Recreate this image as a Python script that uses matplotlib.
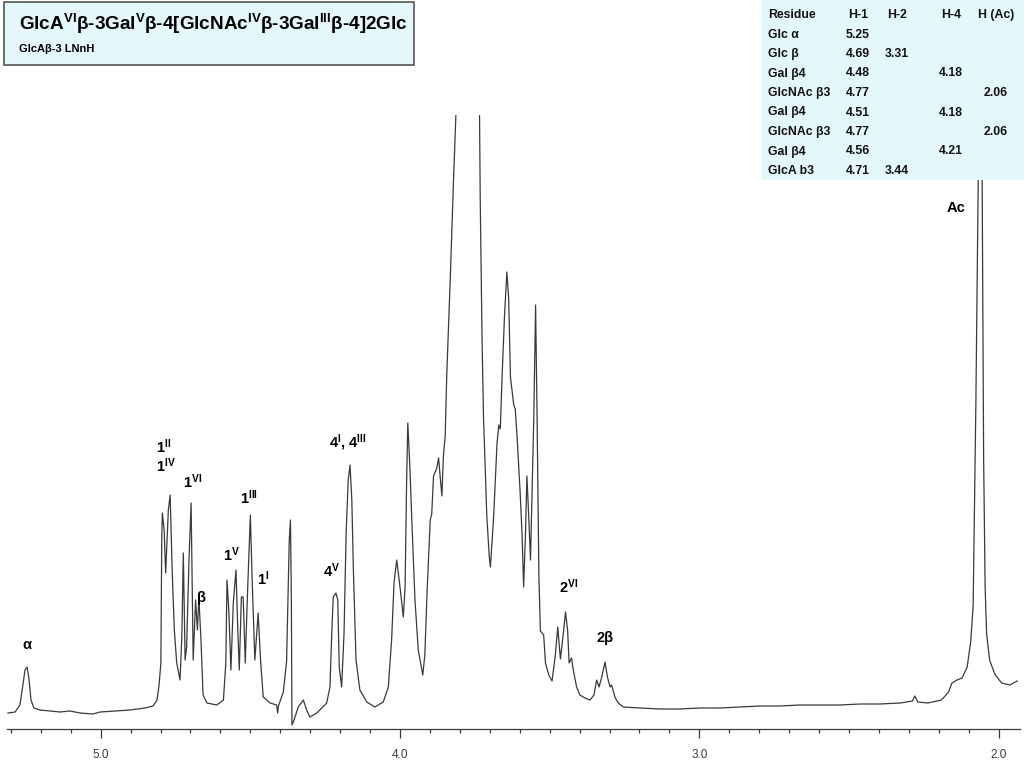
import numpy as np
import matplotlib
matplotlib.use("Agg")
import matplotlib.pyplot as plt
from matplotlib.patches import Rectangle
from matplotlib.ticker import MultipleLocator

plt.rcParams['font.family'] = ['Liberation Sans', 'DejaVu Sans']
plt.rcParams['mathtext.fontset'] = 'custom'
plt.rcParams['mathtext.rm'] = 'Liberation Sans'
plt.rcParams['mathtext.bf'] = 'Liberation Sans:bold'
plt.rcParams['mathtext.it'] = 'Liberation Sans:italic'

# ---------------- data ----------------
shift_ppm = [
    # alpha anomer / baseline
    5.310, 5.286, 5.270, 5.260, 5.253, 5.246, 5.240, 5.233, 5.223, 5.203,
    5.169, 5.136, 5.103, 5.069, 5.026, 5.002, 4.952, 4.902, 4.852, 4.825,
    # H-1 cluster 4.80-4.65
    4.812, 4.805, 4.799, 4.796, 4.794, 4.788, 4.783, 4.774, 4.768, 4.761,
    4.754, 4.746, 4.735, 4.729, 4.724, 4.718, 4.713, 4.705, 4.698, 4.691,
    4.683, 4.677, 4.672, 4.665, 4.658, 4.645,
    # H-1 cluster 4.60-4.45
    4.612, 4.590, 4.582, 4.578, 4.572, 4.565, 4.557, 4.548, 4.542, 4.537,
    4.530, 4.524, 4.517, 4.510, 4.500, 4.494, 4.485, 4.474, 4.466, 4.457,
    4.434, 4.412, 4.409, 4.406,
    # HDO + H-4
    4.390, 4.379, 4.370, 4.366, 4.363, 4.361, 4.354, 4.340, 4.323, 4.312,
    4.301, 4.278, 4.245, 4.234, 4.228, 4.223, 4.214, 4.208, 4.203, 4.195,
    4.187, 4.180, 4.173, 4.167, 4.161, 4.156, 4.147, 4.134, 4.111, 4.084,
    # ring protons
    4.056, 4.039, 4.028, 4.020, 4.011, 4.000, 3.989, 3.983, 3.978, 3.974,
    3.967, 3.961, 3.950, 3.939, 3.924, 3.917, 3.910, 3.899, 3.894, 3.888,
    3.877, 3.871, 3.866, 3.860, 3.855, 3.849, 3.844, 3.832, 3.821, 3.810,
    3.793, 3.773, 3.753, 3.735, 3.732, 3.726, 3.721, 3.710, 3.702, 3.698,
    3.687, 3.676, 3.670, 3.665, 3.659, 3.651, 3.643, 3.637, 3.631, 3.620,
    3.615, 3.609, 3.598, 3.592, 3.587, 3.581, 3.576, 3.570, 3.564, 3.559,
    3.553, 3.547, 3.542, 3.536, 3.531, 3.520, 3.514, 3.503, 3.492, 3.481,
    3.473, 3.464, 3.453, 3.447, 3.440, 3.435, 3.427, 3.421, 3.410, 3.399,
    3.382, 3.365, 3.352, 3.343, 3.335, 3.326, 3.315, 3.307, 3.298, 3.293,
    3.282, 3.271, 3.254,
    # baseline + acetyl
    3.198, 3.132, 3.065, 2.998, 2.931, 2.864, 2.797, 2.730, 2.664, 2.597,
    2.530, 2.463, 2.396, 2.328, 2.288, 2.280, 2.270, 2.236, 2.191, 2.167,
    2.156, 2.139, 2.122, 2.105, 2.093, 2.085, 2.081, 2.076, 2.071, 2.068,
    2.064, 2.059, 2.055, 2.053, 2.050, 2.045, 2.040, 2.030, 2.013, 1.990,
    1.962, 1.938,
]
intensity = [
    16, 17, 24, 44, 59, 62, 51, 29, 21, 19,
    18, 17, 18, 16, 15, 17, 18, 19, 21, 23,
    29, 44, 66, 192, 216, 199, 156, 219, 234, 156,
    99, 66, 49, 92, 176, 69, 82, 169, 226, 69,
    129, 99, 131, 89, 34, 26,
    24, 29, 66, 149, 119, 59, 126, 159, 99, 59,
    132, 132, 66, 132, 214, 149, 69, 116, 69, 32,
    26, 24, 16, 23,
    37, 67, 189, 209, 129, 4, 9, 22, 29, 19,
    12, 16, 26, 42, 96, 132, 136, 129, 62, 42,
    96, 196, 249, 264, 229, 162, 69, 39, 27, 22,
    27, 42, 89, 146, 169, 142, 112, 142, 246, 306,
    262, 212, 129, 79, 54, 74, 134, 209, 215, 253,
    261, 271, 253, 233, 273, 293, 352, 451, 551, 640,
    829, 879, 829, 640, 531, 392, 312, 213, 173, 162,
    213, 285, 304, 300, 352, 412, 457, 431, 352, 324,
    320, 293, 233, 193, 142, 193, 253, 213, 169, 233,
    312, 424, 312, 154, 98, 94, 66, 54, 48, 74,
    102, 70, 99, 117, 99, 66, 71, 59, 42, 34,
    31, 29, 34, 49, 42, 52, 67, 52, 42, 44,
    32, 26, 22,
    21, 20, 20, 21, 21, 22, 23, 23, 24, 24,
    24, 25, 25, 26, 28, 33, 27, 26, 29, 37,
    46, 49, 51, 62, 88, 124, 215, 324, 470, 550,
    1029, 1029, 550, 433, 270, 142, 95, 69, 55, 46,
    44, 48,
]
assert len(shift_ppm) == len(intensity)

major_ticks = [5.0, 4.0, 3.0, 2.0]
major_labels = ["5.0", "4.0", "3.0", "2.0"]

title = (r"GlcA$^{\mathbf{VI}}$β-3Gal$^{\mathbf{V}}$β-4[GlcNAc$^{\mathbf{IV}}$"
         r"β-3Gal$^{\mathbf{III}}$β-4]2Glc")
subtitle = "GlcAβ-3 LNnH"

peak_labels = [r"α", r"1$^{\mathbf{II}}$", r"1$^{\mathbf{IV}}$", r"1$^{\mathbf{VI}}$",
               r"β", r"1$^{\mathbf{V}}$", r"1$^{\mathbf{III}}$", r"1$^{\mathbf{I}}$",
               r"4$^{\mathbf{V}}$", r"4$^{\mathbf{I}}$, 4$^{\mathbf{III}}$",
               r"2$^{\mathbf{VI}}$", r"2β", "Ac"]
# label anchor positions (pixels in the 1024x768 canvas)
peak_label_px = [(27, 645), (164, 447), (166, 466), (193, 482), (202, 598),
                 (232, 555), (249, 498), (263, 579), (332, 571), (348, 443),
                 (569, 587), (605, 638), (956, 208)]

table_header = ["Residue", "H-1", "H-2", "H-4", "H (Ac)"]
residues = ["Glc α", "Glc β", "Gal β4", "GlcNAc β3", "Gal β4",
            "GlcNAc β3", "Gal β4", "GlcA b3"]
h1 = ["5.25", "4.69", "4.48", "4.77", "4.51", "4.77", "4.56", "4.71"]
h2 = ["", "3.31", "", "", "", "", "", "3.44"]
h4 = ["", "", "4.18", "", "4.18", "", "4.21", ""]
hac = ["", "", "", "2.06", "", "2.06", "", ""]

# ---------------- figure ----------------
W, H = 1024, 768
fig = plt.figure(figsize=(W / 100, H / 100), dpi=100)
fig.patch.set_facecolor("white")


def fx(px):
    return px / W


def fy(py):
    return 1 - py / H


line_col = "#3a3a3a"
ax = fig.add_axes([fx(7), fy(729), fx(1020) - fx(7), fy(115) - fy(729)])
ax.plot(shift_ppm, intensity, color=line_col, lw=0.9)
ax.set_xlim(5.3131, 1.9285)
ax.set_ylim(0, 614)
for s in ["left", "right", "top"]:
    ax.spines[s].set_visible(False)
ax.spines["bottom"].set_color(line_col)
ax.spines["bottom"].set_linewidth(0.9)
ax.set_yticks([])
ax.set_xticks(major_ticks)
ax.set_xticklabels(major_labels)
ax.xaxis.set_minor_locator(MultipleLocator(0.1))
ax.tick_params(axis="x", which="major", length=6.5, width=0.9, direction="out",
               colors=line_col, labelsize=8.5, pad=8)
ax.tick_params(axis="x", which="minor", length=3, width=0.9, direction="out",
               colors=line_col)
ax.patch.set_alpha(0)

# title box
box_col = "#e4f8fb"
fig.add_artist(Rectangle((fx(4), fy(65)), fx(414) - fx(4), fy(2) - fy(65),
                         transform=fig.transFigure, facecolor=box_col,
                         edgecolor="#555555", lw=1.2, zorder=5))
fig.text(fx(19), fy(24), title, fontsize=13.6, fontweight="bold", va="center",
         ha="left", color="black", zorder=6)
fig.text(fx(19), fy(49), subtitle, fontsize=8, fontweight="bold",
         va="center", ha="left", color="black", zorder=6)

# table
fig.add_artist(Rectangle((fx(762), fy(180)), fx(1024) - fx(762), fy(0) - fy(180),
                         transform=fig.transFigure, facecolor=box_col,
                         edgecolor="none", zorder=5))
col_x = [768, 858, 897, 951, 996]
row_y0, row_dy = 15, 19.5
tkw = dict(fontsize=8.8, fontweight="bold", va="center", color="#111111", zorder=6)
for j, head in enumerate(table_header):
    fig.text(fx(col_x[j]), fy(row_y0), head, ha="left" if j == 0 else "center", **tkw)
for i in range(len(residues)):
    yy = fy(row_y0 + row_dy * (i + 1))
    row = [residues[i], h1[i], h2[i], h4[i], hac[i]]
    for j, val in enumerate(row):
        if val:
            fig.text(fx(col_x[j]), yy, val, ha="left" if j == 0 else "center", **tkw)

# peak labels
for lab, (px, py) in zip(peak_labels, peak_label_px):
    fig.text(fx(px), fy(py), lab, fontsize=10.5, fontweight="bold", ha="center",
             va="center", color="black", zorder=6)

fig.savefig("out.png", dpi=100)
